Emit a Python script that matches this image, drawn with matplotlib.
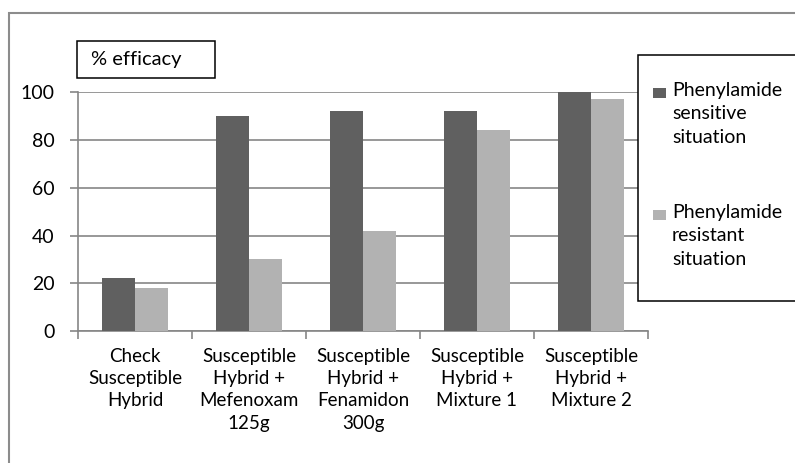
import matplotlib
matplotlib.use("Agg")
import matplotlib.pyplot as plt
from matplotlib.patches import Rectangle
import numpy as np

plt.rcParams["font.family"] = ["Lato", "DejaVu Sans"]

CATS = ["Check\nSusceptible\nHybrid",
        "Susceptible\nHybrid +\nMefenoxam\n125g",
        "Susceptible\nHybrid +\nFenamidon\n300g",
        "Susceptible\nHybrid +\nMixture 1",
        "Susceptible\nHybrid +\nMixture 2"]
SENSITIVE = [22, 90, 92, 92, 100]
RESISTANT = [18, 30, 42, 84, 97]
SERIES = ["Phenylamide\nsensitive\nsituation", "Phenylamide\nresistant\nsituation"]
COLS = ["#606060", "#b2b2b2"]

W, H = 795, 463
fig = plt.figure(figsize=(W / 100, H / 100), dpi=100)


def px(x0, y0, x1, y1):
    # pixel box (top-left origin) -> figure fraction [left, bottom, width, height]
    return [x0 / W, 1 - y1 / H, (x1 - x0) / W, (y1 - y0) / H]


ax = fig.add_axes(px(78, 92.3, 648, 331))
x = np.arange(len(CATS))
bw = 0.29
ax.bar(x - bw / 2, SENSITIVE, bw, color=COLS[0], zorder=3)
ax.bar(x + bw / 2, RESISTANT, bw, color=COLS[1], zorder=3)

ax.set_xlim(-0.5, len(CATS) - 0.5)
ax.set_ylim(0, 100)
ax.set_yticks(range(0, 101, 20))
ax.yaxis.grid(True, color="#868686", lw=1.2, zorder=0)
ax.set_xticks(x)
ax.set_xticklabels(CATS, fontsize=13.5, linespacing=1.38, va="top")
ax.set_xticks(np.arange(-0.5, len(CATS), 1), minor=True)
ax.tick_params(axis="x", which="major", length=0, pad=12)
ax.tick_params(axis="x", which="minor", length=6, color="#868686", width=1.2)
ax.tick_params(axis="y", length=6, color="#868686", width=1.2, pad=11, labelsize=14)
for s in ("top", "right"):
    ax.spines[s].set_visible(False)
for s in ("left", "bottom"):
    ax.spines[s].set_color("#868686")
    ax.spines[s].set_linewidth(1.2)

# outer chart border
fig.patches.append(Rectangle((9 / W, -0.1), 1.1, 1 - 13 / H + 0.1,
                             transform=fig.transFigure, fill=False,
                             edgecolor="#8c8c8c", lw=1.5))

# axis title box
fig.patches.append(Rectangle((77 / W, 1 - 78 / H), 138 / W, 37 / H,
                             transform=fig.transFigure, facecolor="white",
                             edgecolor="black", lw=1.1))
fig.text(91 / W, 1 - 60 / H, "% efficacy", fontsize=14.5, va="center", ha="left")

# legend box
fig.patches.append(Rectangle((638 / W, 1 - 301 / H), 200 / W, 246 / H,
                             transform=fig.transFigure, facecolor="white",
                             edgecolor="black", lw=1.1, zorder=5))
for i, (lab, c) in enumerate(zip(SERIES, COLS)):
    yc = 93 + i * 122
    fig.patches.append(Rectangle((653 / W, 1 - (yc + 5) / H), 13 / W, 10 / H,
                                 transform=fig.transFigure, facecolor=c,
                                 edgecolor="none", zorder=6))
    fig.text(672 / W, 1 - (yc - 11) / H, lab, fontsize=14, va="top", ha="left",
             linespacing=1.45, zorder=7)

fig.savefig("out.png", dpi=100)
